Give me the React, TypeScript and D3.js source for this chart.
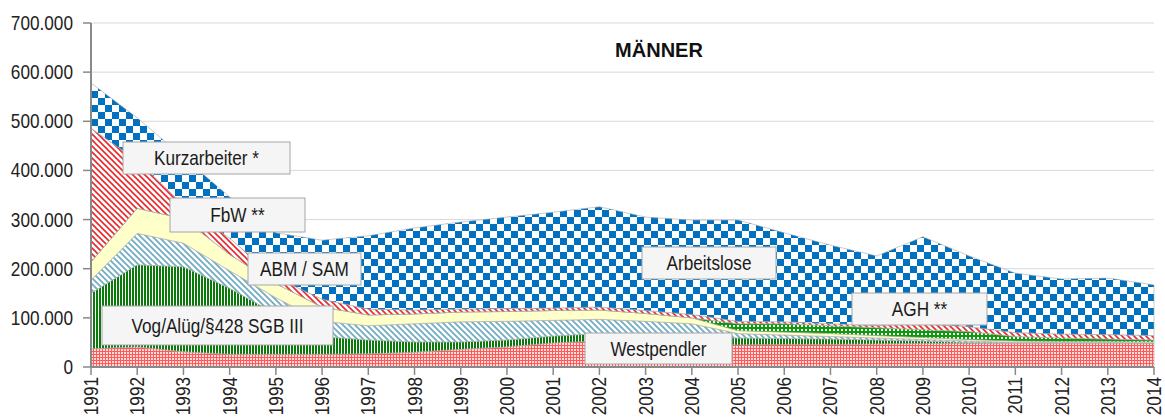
import React from "react";
import * as d3 from "d3";

const years = [
  "1991","1992","1993","1994","1995","1996","1997","1998","1999","2000","2001","2002",
  "2003","2004","2005","2006","2007","2008","2009","2010","2011","2012","2013","2014",
];
// values in thousands
const westpendler = [37,41,31,26,26,26,27,30,36,41,49,53,52,48,45,46,46,47,48,48,49,49,49,49];
const vog = [113,167,173,134,82,36,28,21,15,14,14,15,15,15,14,12,11,8,5,2,0,0,0,0];
const abm = [27,64,48,36,33,31,29,37,41,38,32,29,26,25,9,7,5,4,3,3,1,1,1,0];
const fbw = [37,51,50,33,29,29,22,20,20,20,20,19,16,12,6,6,6,5,4,3,3,2,2,2];
const agh = [0,0,0,0,0,0,0,0,0,0,0,0,0,0,14,17,16,16,16,16,9,7,5,4];
const kurz = [272,97,28,33,12,16,12,8,6,6,5,6,6,7,5,4,4,5,12,10,8,8,9,9];
const arbeitslose = [92,87,97,84,91,120,149,167,177,186,195,204,190,192,206,181,160,141,177,144,121,112,115,103];
const yTicks = [0,100000,200000,300000,400000,500000,600000,700000];

const seriesKeys = ["west","vog","abm","fbw","agh","kurz","al"];
const seriesFill: Record<string,string> = {
  west: "url(#pWest)", vog: "url(#pVog)", abm: "url(#pAbm)", fbw: "#ffffc9",
  agh: "url(#pAgh)", kurz: "url(#pKurz)", al: "url(#pAl)",
};

const labels = [
  { text: "Kurzarbeiter *", x: 123, y: 142, w: 167, h: 32 },
  { text: "FbW **", x: 170, y: 198, w: 135, h: 34 },
  { text: "ABM / SAM", x: 248, y: 253, w: 113, h: 32 },
  { text: "Vog/Alüg/§428 SGB III", x: 102, y: 306, w: 231, h: 39 },
  { text: "Arbeitslose", x: 642, y: 247, w: 134, h: 32 },
  { text: "AGH **", x: 852, y: 293, w: 135, h: 32 },
  { text: "Westpendler", x: 585, y: 333, w: 147, h: 31 },
];

const FONT = "'Liberation Sans', Arial, sans-serif";
const SX = 0.86;

export default function App() {
  const table = years.map((y, i) => ({
    year: y,
    west: westpendler[i] * 1000, vog: vog[i] * 1000, abm: abm[i] * 1000, fbw: fbw[i] * 1000,
    agh: agh[i] * 1000, kurz: kurz[i] * 1000, al: arbeitslose[i] * 1000,
  }));
  const x = d3.scalePoint<string>().domain(years).range([91, 1154]);
  const y = d3.scaleLinear().domain([0, 700000]).range([367, 23]);
  const stacked = d3.stack<any>().keys(seriesKeys)(table);
  const area = d3.area<any>()
    .x((d) => x(d.data.year) as number)
    .y0((d) => y(d[0]))
    .y1((d) => y(d[1]));
  const loc = d3.formatLocale({ decimal: ",", thousands: ".", grouping: [3], currency: ["", "€"] });
  const fmt = loc.format(",");

  return (
    <svg width={1165} height={420} style={{ position: "absolute", left: 0, top: 0, background: "#fff" }}
      fontFamily={FONT}>
      <defs>
        <pattern id="pAl" width={14} height={14} patternUnits="userSpaceOnUse">
          <rect width={14} height={14} fill="#fff" />
          <rect width={7} height={7} fill="#0070c0" />
          <rect x={7} y={7} width={7} height={7} fill="#0070c0" />
        </pattern>
        <pattern id="pKurz" width={6} height={6} patternUnits="userSpaceOnUse">
          <rect width={6} height={6} fill="#fff" />
          <path d="M0,0L6,6M-1,5L1,7M5,-1L7,1" stroke="#e8282b" strokeWidth={1.6} />
        </pattern>
        <pattern id="pAbm" width={6} height={6} patternUnits="userSpaceOnUse">
          <rect width={6} height={6} fill="#fff" />
          <path d="M0,0L6,6M-1,5L1,7M5,-1L7,1" stroke="#72acc4" strokeWidth={1.8} />
        </pattern>
        <pattern id="pVog" width={3} height={3} patternUnits="userSpaceOnUse">
          <rect width={3} height={3} fill="#fff" />
          <rect width={2} height={3} fill="#0a7a0a" />
        </pattern>
        <pattern id="pAgh" width={4} height={4} patternUnits="userSpaceOnUse">
          <rect width={4} height={4} fill="#0d9a0d" />
          <rect x={1} y={1} width={2} height={2} fill="#fff" />
        </pattern>
        <pattern id="pWest" width={3} height={3} patternUnits="userSpaceOnUse">
          <rect width={3} height={3} fill="#ffdcdc" />
          <rect width={3} height={1} fill="#ff5a5a" />
          <rect width={1} height={3} fill="#ff5a5a" />
        </pattern>
      </defs>

      {/* gridlines */}
      {yTicks.filter((t) => t > 0).map((t) => (
        <line key={t} x1={91} x2={1154} y1={y(t)} y2={y(t)} stroke="#d9d9d9" strokeWidth={1} />
      ))}

      {/* areas */}
      {stacked.map((s) => (
        <path key={s.key} d={area(s) as string} fill={seriesFill[s.key]} stroke="#a8a8a8" strokeWidth={0.6} />
      ))}

      {/* y axis */}
      <line x1={91} x2={91} y1={23} y2={367} stroke="#898989" strokeWidth={2} />
      {yTicks.map((t) => (
        <g key={t}>
          <line x1={83} x2={91} y1={y(t)} y2={y(t)} stroke="#898989" strokeWidth={1.5} />
          <text transform={`translate(73,${y(t)}) scale(${SX},1)`} dy="0.35em" textAnchor="end"
            fontSize={20} fill="#222">{fmt(t)}</text>
        </g>
      ))}

      {/* x axis */}
      <line x1={91} x2={1154} y1={367} y2={367} stroke="#898989" strokeWidth={2} />
      {years.map((yr) => (
        <g key={yr}>
          <line x1={x(yr)} x2={x(yr)} y1={367} y2={375} stroke="#898989" strokeWidth={1.5} />
          <text transform={`translate(${x(yr)},377) rotate(-90) scale(${SX},1)`} textAnchor="end" dy="0.35em"
            fontSize={20} fill="#222">{yr}</text>
        </g>
      ))}

      {/* title */}
      <text x={659} y={57} textAnchor="middle" fontSize={20} fontWeight="bold" fill="#111">MÄNNER</text>

      {/* labels */}
      {labels.map((l) => (
        <g key={l.text}>
          <rect x={l.x} y={l.y} width={l.w} height={l.h} fill="#f5f5f5" stroke="#a6a6a6" strokeWidth={1} />
          <text transform={`translate(${l.x + l.w / 2},${l.y + l.h / 2}) scale(${SX},1)`} dy="0.36em"
            textAnchor="middle" fontSize={20} fill="#1a1a1a">
            {l.text}
          </text>
        </g>
      ))}
    </svg>
  );
}
